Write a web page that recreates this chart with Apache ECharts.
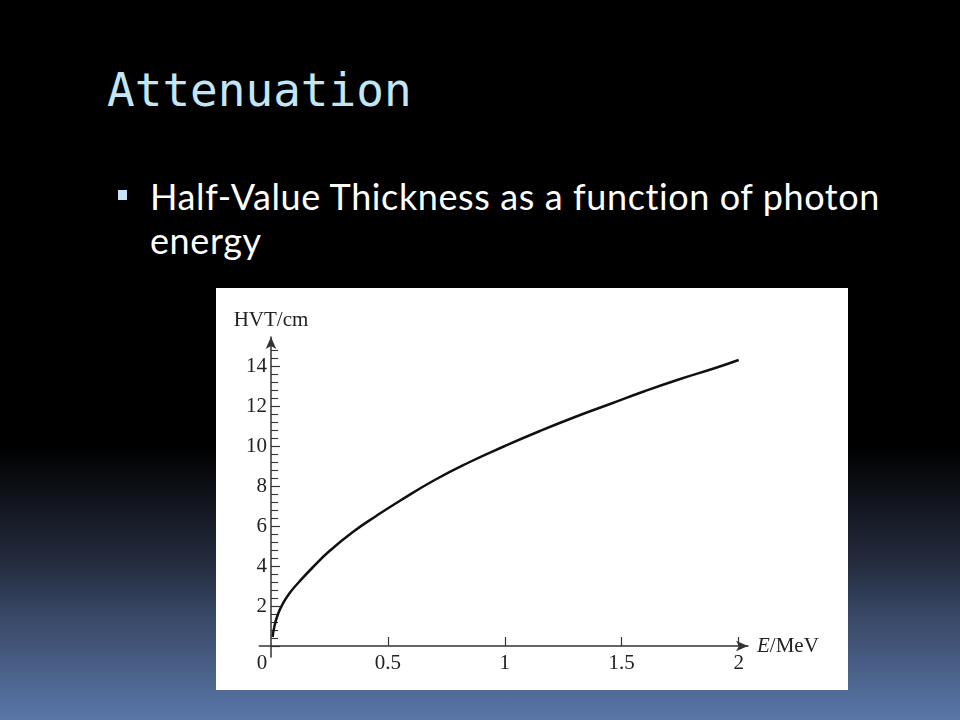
<!DOCTYPE html>
<html>
<head>
<meta charset="utf-8">
<script src="https://cdn.jsdelivr.net/npm/echarts@6/dist/echarts.min.js"></script>
<style>
  html, body { margin: 0; padding: 0; }
  body {
    width: 960px; height: 720px; overflow: hidden; position: relative;
    background: linear-gradient(to bottom, #000 0%, #000 62%, #232b3d 78%, #374663 85%, #5a77a9 100%);
  }
  #title {
    position: absolute; left: 107px; top: 62px;
    font-family: 'DejaVu Sans Mono', monospace; font-size: 46px; color: #c2e6f6;
    line-height: 56px; white-space: nowrap;
  }
  #bullet {
    position: absolute; left: 118px; top: 190px; width: 9px; height: 10px; background: #c7e3f5;
  }
  #body {
    position: absolute; left: 150px; top: 174px;
    font-family: 'Lato', sans-serif; font-size: 36px; letter-spacing: 0.6px; color: #fff; line-height: 44px; white-space: nowrap;
  }
  #chart { position: absolute; left: 216px; top: 288px; width: 632px; height: 402px; background: #fff; }
</style>
</head>
<body>
<div id="title">Attenuation</div>
<div id="bullet"></div>
<div id="body">Half-Value Thickness as a function of photon<br>energy</div>
<div id="chart"></div>
<script>
// Photon energy E (MeV) and half-value thickness (cm)
const energy = [0.007, 0.015, 0.03, 0.05, 0.08, 0.12, 0.18, 0.25, 0.35, 0.45, 0.55, 0.7, 0.85, 1.0, 1.15, 1.3, 1.45, 1.6, 1.75, 1.9, 2.0];
const hvt    = [0.45, 1.0, 1.6, 2.1, 2.65, 3.2, 3.95, 4.75, 5.7, 6.5, 7.25, 8.3, 9.2, 10.0, 10.75, 11.45, 12.1, 12.75, 13.35, 13.9, 14.3];

const xLabelValues = [0, 0.5, 1, 1.5, 2];
const xTickValues = [0.5, 1, 1.5, 2];
const yLabelValues = [2, 4, 6, 8, 10, 12, 14];
const yMajorTicks = [0, 2, 4, 6, 8, 10, 12, 14];
const yMinorTicks = [0.4, 0.8, 1.2, 1.6, 2.4, 2.8, 3.2, 3.6, 4.4, 4.8, 5.2, 5.6, 6.4, 6.8, 7.2, 7.6,
  8.4, 8.8, 9.2, 9.6, 10.4, 10.8, 11.2, 11.6, 12.4, 12.8, 13.2, 13.6, 14.4, 14.8];

const points = energy.map((e, i) => [e, hvt[i]]);

const font = 'Liberation Serif';
const axisColor = '#333';
const fs = 21;

const xMin = -0.05, xMax = 2.04;
const yMin = -0.55, yMax = 15.45;
const gridLeft = 43.3, gridWidth = 488.7, gridTop = 49, gridHeight = 320;
// pixel offsets of the zero lines from the grid edges
const zeroOffsetX = (0 - xMin) / (xMax - xMin) * gridWidth;
const zeroOffsetY = (0 - yMin) / (yMax - yMin) * gridHeight;

const chart = echarts.init(document.getElementById('chart'), null, { renderer: 'canvas' });
chart.setOption({
  animation: false,
  backgroundColor: '#fff',
  grid: { left: gridLeft, top: gridTop, width: gridWidth, height: gridHeight, outerBoundsMode: 'none', containLabel: false },
  xAxis: {
    type: 'value', min: xMin, max: xMax,
    name: '{i|E}/MeV', nameLocation: 'end', nameGap: 9,
    nameTextStyle: { fontFamily: font, fontSize: fs, color: '#222', verticalAlign: 'middle',
      rich: { i: { fontFamily: font, fontSize: fs, fontStyle: 'italic', color: '#222' } } },
    axisLine: { show: true, onZero: true, symbol: ['none', 'arrow'], symbolSize: [8, 12],
      lineStyle: { color: axisColor, width: 1.5 } },
    axisTick: { show: true, inside: true, length: 9, customValues: xTickValues, lineStyle: { color: axisColor, width: 1.2 } },
    axisLabel: { show: true, customValues: xLabelValues, margin: 7 - zeroOffsetY, fontFamily: font, fontSize: fs, color: '#222',
      formatter: v => v === 0 ? '{z|0}' : String(v),
      rich: { z: { fontFamily: font, fontSize: fs, color: '#222', padding: [0, 18, 0, 0] } } },
    splitLine: { show: false }
  },
  yAxis: [{
    type: 'value', min: yMin, max: yMax, position: 'left',
    name: 'HVT/cm', nameLocation: 'end', nameGap: 6,
    nameTextStyle: { fontFamily: font, fontSize: fs, color: '#222' },
    axisLine: { show: true, onZero: true, symbol: ['none', 'arrow'], symbolSize: [8, 12],
      lineStyle: { color: axisColor, width: 1.5 } },
    axisTick: { show: true, inside: true, length: 9, customValues: yMajorTicks, lineStyle: { color: axisColor, width: 1.2 } },
    axisLabel: { show: true, customValues: yLabelValues, margin: 4 - zeroOffsetX, fontFamily: font, fontSize: fs, color: '#222' },
    splitLine: { show: false }
  }, {
    type: 'value', min: yMin, max: yMax, position: 'left', offset: -zeroOffsetX,
    axisLine: { show: true, onZero: false, lineStyle: { color: 'rgba(0,0,0,0)', width: 0 } },
    axisTick: { show: true, inside: true, length: 7, customValues: yMinorTicks, lineStyle: { color: axisColor, width: 1.1 } },
    axisLabel: { show: false },
    splitLine: { show: false }
  }],
  series: [{
    type: 'line', data: points, smooth: true, showSymbol: false, symbol: 'none',
    lineStyle: { color: '#111', width: 2.5 }, yAxisIndex: 0
  }]
});
</script>
</body>
</html>
